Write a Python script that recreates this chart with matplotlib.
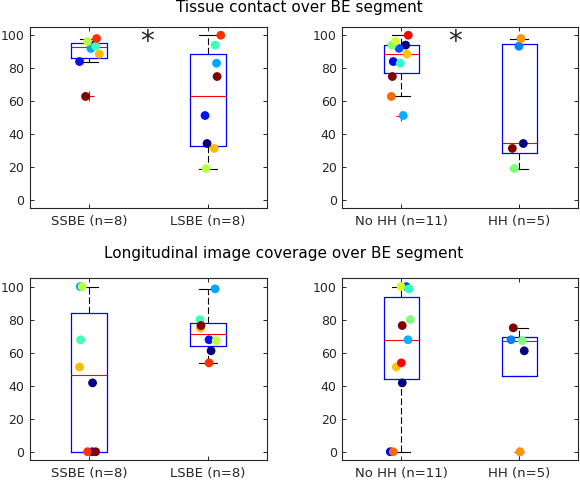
import numpy as np
import matplotlib
matplotlib.use("Agg")
import matplotlib.pyplot as plt

# ---------------- data ----------------
title_top = "Tissue contact over BE segment"
title_bottom = "Longitudinal image coverage over BE segment"
labels_be = ["SSBE (n=8)", "LSBE (n=8)"]
labels_hh = ["No HH (n=11)", "HH (n=5)"]
yticks = [0, 20, 40, 60, 80, 100]

# values listed in patient colour order (jet colormap index within each group)
tc_ssbe = [94.0, 84.0, 92.0, 93.3, 96.2, 88.5, 98.0, 62.8]
tc_lsbe = [34.2, 51.2, 83.0, 94.0, 19.0, 31.2, 100.0, 74.9]
tc_nohh = [94.0, 84.0, 92.0, 51.2, 83.0, 94.0, 96.2, 88.5, 62.8, 100.0, 74.9]
tc_hh = [34.2, 93.3, 19.0, 98.0, 31.2]

lc_ssbe = [41.7, 0.0, 100.0, 67.8, 100.0, 51.3, 0.0, 0.0]
lc_lsbe = [61.1, 67.8, 98.6, 80.0, 67.3, 74.8, 53.8, 76.4]
lc_nohh = [41.7, 0.0, 100.0, 67.8, 98.6, 80.0, 100.0, 51.3, 0.0, 53.8, 76.4]
lc_hh = [61.1, 67.8, 67.3, 0.0, 75.0]

# horizontal jitter of the points (x offsets from the box centre)
jit_tc_ssbe = [0.02, -0.082, 0.014, 0.054, -0.014, 0.085, 0.062, -0.031]
jit_tc_lsbe = [-0.006, -0.023, 0.074, 0.062, -0.014, 0.054, 0.11, 0.079]
jit_tc_nohh = [0.037, -0.068, -0.019, 0.017, -0.008, -0.079, -0.051, 0.048, -0.085, 0.059, -0.076]
jit_tc_hh = [0.034, -0.003, -0.042, 0.014, -0.059]

jit_lc_ssbe = [0.028, 0.023, -0.076, -0.073, -0.059, -0.082, -0.014, 0.054]
jit_lc_lsbe = [0.028, 0.011, 0.062, -0.065, 0.071, -0.062, 0.011, -0.057]
jit_lc_nohh = [0.008, -0.093, 0.042, 0.057, 0.065, 0.076, -0.003, -0.042, -0.068, 0.0, 0.008]
jit_lc_hh = [0.042, -0.07, 0.025, 0.006, -0.051]

panels = [
    ([tc_ssbe, tc_lsbe], [jit_tc_ssbe, jit_tc_lsbe], labels_be, 1.49),
    ([tc_nohh, tc_hh], [jit_tc_nohh, jit_tc_hh], labels_hh, 1.46),
    ([lc_ssbe, lc_lsbe], [jit_lc_ssbe, jit_lc_lsbe], labels_be, None),
    ([lc_nohh, lc_hh], [jit_lc_nohh, jit_lc_hh], labels_hh, None),
]


def matlab_stats(v):
    v = np.asarray(v, float)
    q1, med, q3 = np.percentile(v, [25, 50, 75], method="hazen")
    iqr = q3 - q1
    lo_f, hi_f = q1 - 1.5 * iqr, q3 + 1.5 * iqr
    inside = v[(v >= lo_f) & (v <= hi_f)]
    return dict(med=med, q1=q1, q3=q3,
                whislo=min(inside.min(), q1), whishi=max(inside.max(), q3),
                fliers=v[(v < lo_f) | (v > hi_f)])


fig = plt.figure(figsize=(5.8, 4.8), dpi=100)
W, H = 580.0, 480.0
rects = [
    (30 / W, 1 - 208 / H, 237 / W, 181 / H),
    (342.3 / W, 1 - 208 / H, 236 / W, 181 / H),
    (30 / W, 1 - 460 / H, 237 / W, 181.7 / H),
    (342.3 / W, 1 - 460 / H, 236 / W, 181.7 / H),
]
grey = (0.15, 0.15, 0.15)

for rect, (data, jits, labels, star_x) in zip(rects, panels):
    ax = fig.add_axes(rect)
    stats = [matlab_stats(d) for d in data]
    ax.bxp(stats, positions=[1, 2], widths=0.3, showfliers=True,
           boxprops=dict(color="blue", linewidth=0.9, zorder=3),
           medianprops=dict(color="red", linewidth=0.8, zorder=3),
           whiskerprops=dict(color="black", linewidth=0.8, linestyle=(0, (6, 2.5)), zorder=2),
           capprops=dict(color="black", linewidth=0.8, zorder=2),
           flierprops=dict(marker="+", markeredgecolor="red", markersize=7,
                           markeredgewidth=0.8, linestyle="none", zorder=2))
    for i, (d, j) in enumerate(zip(data, jits)):
        cols = plt.cm.jet(np.linspace(0, 1, len(d)))
        ax.scatter(np.full(len(d), i + 1) + np.asarray(j), d, s=40, c=cols,
                   linewidths=0, zorder=4)
    if star_x is not None:
        ax.text(star_x, 95.9, "*", fontsize=20, ha="center", va="center",
                color=grey)
    ax.set_xlim(0.5, 2.5)
    ax.set_ylim(-5, 105)
    ax.set_yticks(yticks)
    ax.set_xticks([1, 2])
    ax.set_xticklabels(labels)
    ax.tick_params(direction="in", top=True, right=True, length=3,
                   width=0.7, labelcolor=grey, colors=grey)
    ax.tick_params(axis="x", labelsize=9.5, pad=5)
    ax.tick_params(axis="y", labelsize=9, pad=4)
    for sp in ax.spines.values():
        sp.set_linewidth(0.8)
        sp.set_color(grey)

fig.text(299 / W, 1 - 7.5 / H, title_top, ha="center", va="center",
         fontsize=11, color="black")
fig.text(284 / W, 1 - 253.5 / H, title_bottom, ha="center", va="center",
         fontsize=11, color="black")

fig.savefig("out.png", dpi=100)
